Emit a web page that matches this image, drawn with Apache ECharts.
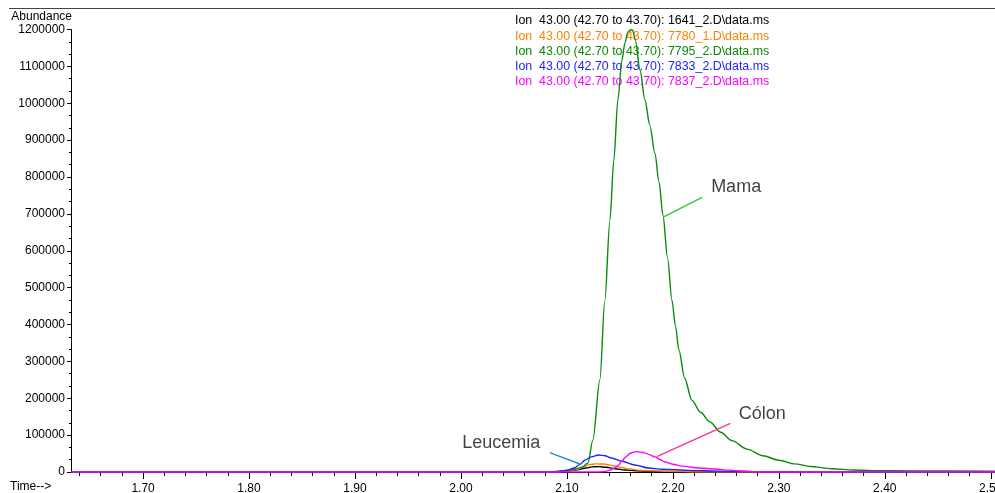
<!DOCTYPE html>
<html>
<head>
<meta charset="utf-8">
<title>Ion 43.00 overlay</title>
<script src="https://cdn.jsdelivr.net/npm/echarts@6/dist/echarts.min.js"></script>
<style>
  html, body { margin: 0; padding: 0; background: #fff; }
  #chart { width: 995px; height: 493px; }
</style>
</head>
<body>
<div id="chart"></div>
<script>
// Retention-time window (min) and axis ticks
const timeMin = 1.632;
const timeMax = 2.504;
const timeMajorTicks = [1.70, 1.80, 1.90, 2.00, 2.10, 2.20, 2.30, 2.40, 2.50];
const abundanceTicks = [0, 100000, 200000, 300000, 400000, 500000, 600000, 700000, 800000, 900000, 1000000, 1100000, 1200000];

// Extracted ion chromatograms, m/z 43.00 (42.70 to 43.70): [time, abundance]
const traceNames = [
  'Ion  43.00 (42.70 to 43.70): 1641_2.D\\data.ms',
  'Ion  43.00 (42.70 to 43.70): 7780_1.D\\data.ms',
  'Ion  43.00 (42.70 to 43.70): 7795_2.D\\data.ms',
  'Ion  43.00 (42.70 to 43.70): 7833_2.D\\data.ms',
  'Ion  43.00 (42.70 to 43.70): 7837_2.D\\data.ms'
];
const traceColors = ['#000000', '#ff8000', '#0a8a0a', '#2222ff', '#ff00ff'];

const trace1641 = [
  [1.632, 0], [2.085, 0], [2.100, 2000], [2.110, 6000], [2.118, 11000], [2.124, 14000],
  [2.130, 14500], [2.137, 13000], [2.145, 9000], [2.155, 5500], [2.165, 3500],
  [2.180, 2000], [2.200, 800], [2.210, 0], [2.504, 0]
];
const trace7780 = [
  [1.632, 0], [2.090, 0], [2.100, 2500], [2.110, 7000], [2.116, 14000], [2.121, 20000],
  [2.127, 22000], [2.135, 21500], [2.142, 18000], [2.150, 13000], [2.160, 8000],
  [2.168, 5000], [2.180, 3000], [2.195, 2000], [2.210, 1000], [2.220, 0], [2.504, 0]
];
const trace7795 = [
  [1.632, 0], [2.080, 0], [2.090, 1500], [2.100, 4000], [2.108, 8000], [2.114, 13000],
  [2.1198, 24000], [2.1245, 87000], [2.1311, 250000], [2.1358, 466000], [2.1406, 683000],
  [2.1443, 846000], [2.1481, 1009000], [2.1519, 1117000], [2.1547, 1163000],
  [2.1575, 1193000], [2.1604, 1200000], [2.1621, 1198000], [2.1645, 1172000],
  [2.1690, 1090000], [2.1736, 1009000], [2.1783, 940000], [2.1830, 865000],
  [2.1870, 785000], [2.1906, 697000], [2.1950, 580000], [2.1991, 466000],
  [2.2025, 395000], [2.2057, 331000], [2.2110, 255000], [2.2179, 195000],
  [2.2260, 162000], [2.2349, 136000], [2.2450, 108000], [2.2559, 85000],
  [2.2700, 62000], [2.2850, 44000], [2.3000, 32000], [2.3150, 22000],
  [2.3300, 15000], [2.3500, 9000], [2.3700, 5500], [2.3900, 3800],
  [2.4300, 2800], [2.504, 2000]
];
const trace7833 = [
  [1.632, 0], [2.085, 0], [2.095, 2000], [2.100, 5000], [2.107, 11000], [2.112, 20000],
  [2.117, 32000], [2.123, 41000], [2.130, 46000], [2.136, 44000], [2.142, 38000],
  [2.152, 29000], [2.164, 19000], [2.177, 11000], [2.190, 7500], [2.215, 4500],
  [2.245, 2500], [2.278, 1000], [2.285, 0], [2.504, 0]
];
const trace7837 = [
  [1.632, 0], [2.130, 0], [2.136, 1500], [2.1403, 5000], [2.145, 11000], [2.149, 19000],
  [2.1517, 30000], [2.156, 42000], [2.1593, 50000], [2.1625, 54000], [2.166, 55000],
  [2.170, 54000], [2.1735, 52000], [2.178, 47000], [2.183, 41000], [2.1875, 34000],
  [2.1924, 27000], [2.200, 21000], [2.2085, 16000], [2.2246, 10800], [2.2398, 8000],
  [2.253, 5000], [2.265, 2700], [2.275, 1000], [2.285, 0], [2.504, 0]
];
const traces = [trace1641, trace7780, trace7795, trace7833, trace7837];

// Sample callouts: label anchor and leader line ends, in [time, abundance]
const calloutNames = ['Mama', 'Cólon', 'Leucemia'];
const calloutColors = ['#33cc33', '#ff3399', '#2a8ad8'];
const calloutText = [[2.2597, 773000], [2.2843, 157300], [2.0381, 78600]];
const calloutLines = [
  [[2.1914, 692000], [2.2275, 745000]],
  [[2.1848, 41500], [2.2543, 132000]],
  [[2.0838, 52400], [2.1122, 21700]]
];

const FONT = '"Liberation Sans", Arial, sans-serif';

const minorTimeTicks = [];
for (let i = 82; i <= 250; i++) minorTimeTicks.push(+(i * 0.02).toFixed(2));

const series = traces.map((data, i) => ({
  name: traceNames[i],
  type: 'line',
  data: data,
  showSymbol: false,
  smooth: 0.3,
  smoothMonotone: 'x',
  lineStyle: { color: traceColors[i], width: 1.4 },
  itemStyle: { color: traceColors[i] },
  emphasis: { disabled: true },
  z: 3 + i
}));

calloutLines.forEach((pts, i) => {
  series.push({
    type: 'line',
    data: pts,
    showSymbol: false,
    silent: true,
    lineStyle: { color: calloutColors[i], width: 1.4 },
    z: 10
  });
});

series.push({
  type: 'scatter',
  silent: true,
  symbolSize: 0,
  data: calloutText.map((p, i) => ({ value: p, name: calloutNames[i] })),
  label: {
    show: true,
    position: 'inside',
    formatter: p => p.name,
    color: '#111',
    fontSize: 18,
    fontFamily: FONT
  },
  z: 11
});

const chart = echarts.init(document.getElementById('chart'), null, { renderer: 'canvas' });
chart.setOption({
  animation: false,
  backgroundColor: '#ffffff',
  grid: { left: 71, right: 0, top: 29.5, bottom: 21, containLabel: false, outerBoundsMode: 'none' },
  legend: {
    orient: 'vertical',
    left: 505,
    top: 10,
    itemWidth: 0,
    itemHeight: 0,
    itemGap: 3.25,
    selectedMode: false,
    textStyle: { fontSize: 12.4, fontFamily: FONT },
    data: traceNames.map((n, i) => ({ name: n, icon: 'rect', textStyle: { color: traceColors[i] } }))
  },
  xAxis: [
    {
      type: 'value',
      min: timeMin,
      max: timeMax,
      position: 'bottom',
      axisLine: { show: true, onZero: false, lineStyle: { color: '#000', width: 1 } },
      axisTick: { show: true, inside: false, length: 7, customValues: timeMajorTicks, lineStyle: { color: '#000' } },
      axisLabel: {
        show: true,
        customValues: timeMajorTicks,
        formatter: v => v.toFixed(2),
        margin: 11,
        color: '#000',
        fontSize: 12,
        fontFamily: FONT,
        showMinLabel: true,
        showMaxLabel: true,
        hideOverlap: false
      },
      splitLine: { show: false }
    },
    {
      type: 'value',
      min: timeMin,
      max: timeMax,
      position: 'bottom',
      offset: 0,
      axisLine: { show: false },
      axisTick: { show: true, inside: false, length: 4, customValues: minorTimeTicks, lineStyle: { color: '#000' } },
      axisLabel: { show: false },
      splitLine: { show: false }
    }
  ],
  yAxis: {
    type: 'value',
    min: 0,
    max: 1200000,
    interval: 100000,
    axisLine: { show: true, lineStyle: { color: '#000', width: 1 } },
    axisTick: { show: true, inside: false, length: 4, lineStyle: { color: '#000' } },
    minorTick: { show: true, splitNumber: 3, length: 2, lineStyle: { color: '#000' } },
    axisLabel: {
      margin: 6,
      color: '#000',
      fontSize: 12,
      fontFamily: FONT,
      customValues: abundanceTicks,
      formatter: v => String(v)
    },
    splitLine: { show: false }
  },
  graphic: [
    { type: 'line', silent: true, shape: { x1: 9, y1: 8.5, x2: 995, y2: 8.5 }, style: { stroke: '#444', lineWidth: 1 } },
    { type: 'text', silent: true, style: { text: 'Abundance', x: 72, y: 17, align: 'right', verticalAlign: 'middle', fontSize: 12, fontFamily: FONT, fill: '#000' } },
    { type: 'text', silent: true, style: { text: 'Time-->', x: 10, y: 487, align: 'left', verticalAlign: 'middle', fontSize: 12, fontFamily: FONT, fill: '#000' } }
  ],
  series: series
});
</script>
</body>
</html>
